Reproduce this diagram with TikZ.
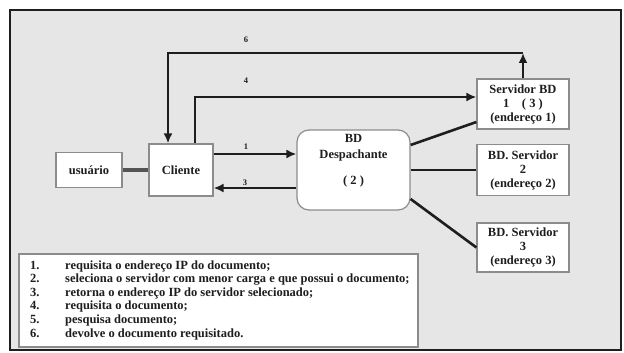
\documentclass[tikz,border=0pt]{standalone}
\usepackage{fontspec}
\setmainfont{Liberation Serif}
\usetikzlibrary{arrows.meta, calc}
\definecolor{fundo}{HTML}{E6E6E6}
\definecolor{traco}{HTML}{1E1E1E}
\definecolor{borda}{HTML}{8C8C8C}
\begin{document}
\begin{tikzpicture}[x=1pt, y=-1pt,
    >={Latex[length=10pt,width=9pt]},
    every node/.style={text=traco},
    caixa/.style={draw=borda, line width=1.2pt, fill=white, align=center,
      inner sep=0pt, font=\bfseries\fontsize{12.5}{14}\selectfont},
    fluxo/.style={->, line width=2.6pt, draw=traco},
    liga/.style={line width=2.6pt, draw=traco},
    num/.style={font=\bfseries\fontsize{8.5}{9}\selectfont},
    item/.style={anchor=base west, inner sep=0pt, font=\bfseries\fontsize{12.5}{14}\selectfont}
  ]
  \useasboundingbox (0,0) rectangle (624,353);
  \draw[line width=2.8pt, draw=traco, fill=fundo] (10,10) rectangle (621,350);

  % caixas
  \node[caixa, minimum width=66pt, minimum height=35pt] (usuario) at (89,170) {usuário};
  \node[caixa, minimum width=64pt, minimum height=52pt] (cliente) at (181,170) {Cliente};
  \node[caixa, rounded corners=12pt, minimum width=113pt, minimum height=80pt] (desp) at (353.5,170) {};
  \node[align=center, inner sep=0pt, font=\bfseries\fontsize{12.5}{16}\selectfont]
    (desptxt) at ([yshift=9pt]desp.center) {BD\\Despachante\\[10pt]( 2 )};
  \node[caixa, minimum width=92pt, minimum height=50pt] (serv1) at (523,104) {Servidor BD\\1\quad( 3 )\\(endereço 1)};
  \node[caixa, minimum width=92pt, minimum height=51pt] (serv2) at (523,170) {BD. Servidor\\2\\(endereço 2)};
  \node[caixa, minimum width=92pt, minimum height=49pt] (serv3) at (523,247.5) {BD. Servidor\\3\\(endereço 3)};

  % ligacoes
  \draw[line width=3.4pt, draw=borda!60!black] (usuario) -- (cliente);
  \draw[fluxo] ([yshift=16pt]cliente.east) -- ([yshift=16pt]desp.west);
  \draw[fluxo] ([yshift=-18pt]desp.west) -- ([yshift=-18pt]cliente.east);
  \draw[liga] ([yshift=25pt]desp.east) -- ([yshift=-18pt]serv1.west);
  \draw[liga] (desp.east) -- (serv2.west);
  \draw[liga] ([yshift=-29pt]desp.east) -- (serv3.west);
  \draw[fluxo] ([xshift=14pt]cliente.north) |- ([yshift=7pt]serv1.west);
  \coordinate (canto6) at (serv1.north |- 0,53);
  \draw[fluxo] (serv1.north) -- (canto6);
  \draw[fluxo] (canto6) -| ([xshift=-13pt]cliente.north);

  \node[num] (n6) at (246,40) {6};
  \node[num] (n4) at (246,81) {4};
  \node[num] (n1) at (246,147) {1};
  \node[num] (n3) at (245,183) {3};

  % legenda
  \node[caixa, minimum width=399pt, minimum height=93pt] (legenda) at (218.5,300.5) {};
  \foreach \n/\txt [count=\i] in {1./{requisita o endereço IP do documento;},
      2./{seleciona o servidor com menor carga e que possui o documento;},
      3./{retorna o endereço IP do servidor selecionado;},
      4./{requisita o documento;},
      5./{pesquisa documento;},
      6./{devolve o documento requisitado.}}
  {
    \node[item] (num\i) at (30,{269+13.6*(\i-1)}) {\n};
    \node[item] (txt\i) at (65,{269+13.6*(\i-1)}) {\txt};
  }
\end{tikzpicture}
\end{document}
